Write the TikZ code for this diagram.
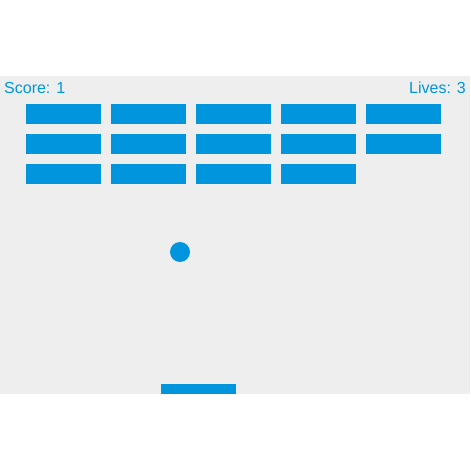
\documentclass[tikz,border=0pt]{standalone}
\usepackage{fontspec}
\setmainfont{Liberation Sans}
\definecolor{gameblue}{HTML}{0095DD}
\definecolor{gamebg}{HTML}{EEEEEE}
\begin{document}
\begin{tikzpicture}[x=1pt,y=-1pt,
  brick/.style={fill=gameblue,draw=none},
  hud/.style={inner sep=0pt,text=gameblue,font=\fontsize{16}{19}\selectfont}]
\useasboundingbox (0,0) rectangle (470,470);
\fill[white] (0,0) rectangle (470,470);
\fill[gamebg] (0,76) rectangle (470,394);
\foreach \r/\cols in {0/4,1/4,2/3}{
  \foreach \c in {0,...,\cols}{
    \fill[brick] ({26+85*\c},{104+30*\r}) rectangle ++(75,20);
  }
}
\fill[gameblue] (180,252) circle (10);
\fill[gameblue] (161,384) rectangle (236,394);
\node[hud,anchor=base west] (score) at (4,94) {Score: 1};
\node[hud,anchor=base east] (lives) at (466,94) {Lives: 3};
\end{tikzpicture}
\end{document}
